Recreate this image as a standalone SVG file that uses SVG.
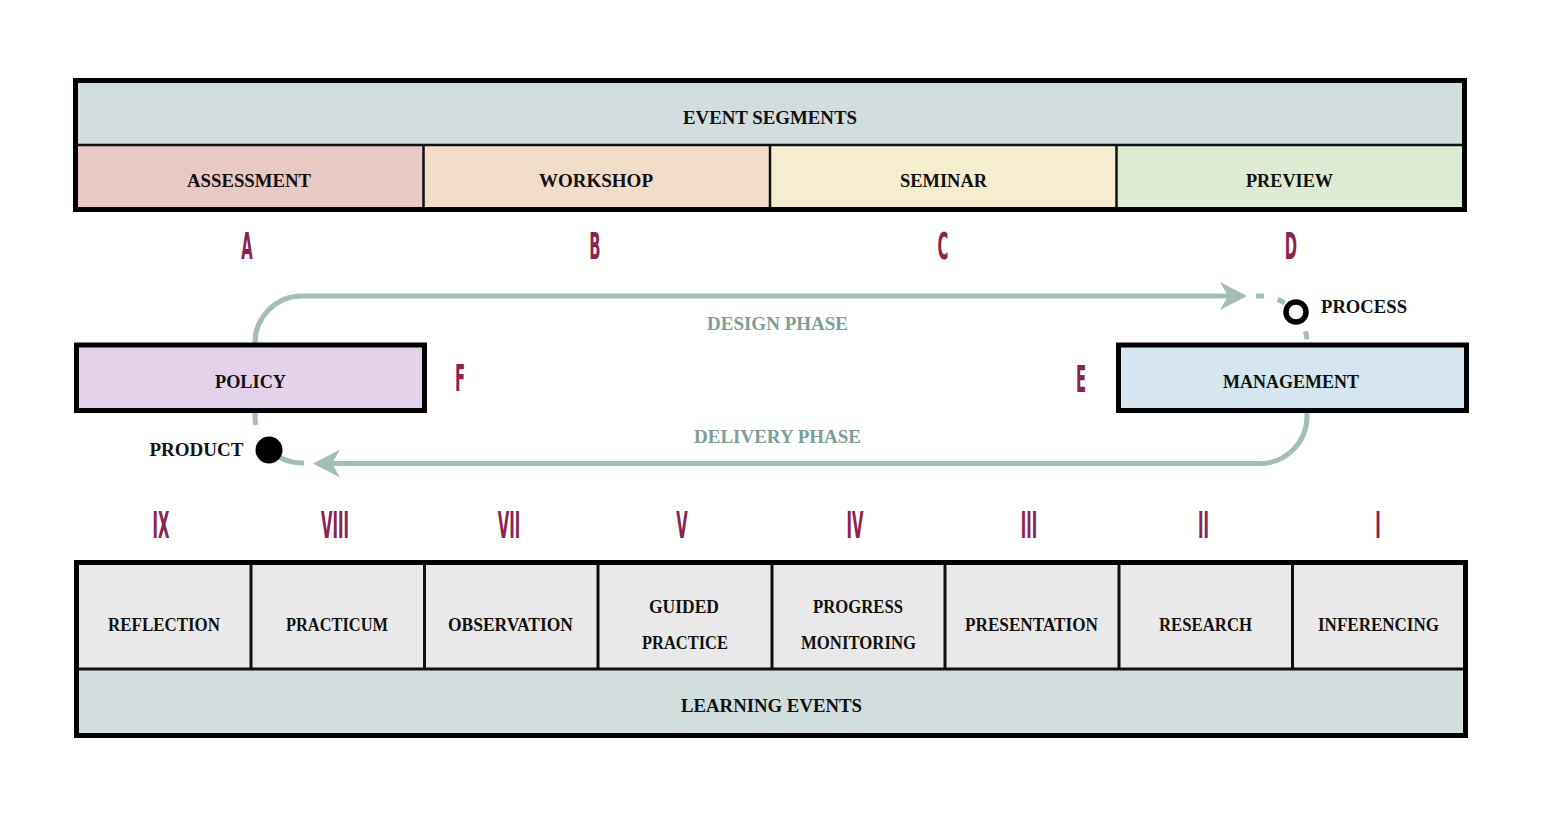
<svg xmlns="http://www.w3.org/2000/svg" width="1544" height="838" viewBox="0 0 1544 838">
<style>
.lbl{font-family:"Liberation Serif","Times New Roman",serif;font-weight:bold;font-size:18.5px;fill:#111;text-anchor:middle;}
.lft{text-anchor:start;}
.rgt{text-anchor:end;}
.phase{font-family:"Liberation Serif","Times New Roman",serif;font-weight:bold;font-size:18.5px;fill:#7C9E99;text-anchor:middle;}
.mark{font-family:"DejaVu Sans",sans-serif;font-weight:bold;font-size:37px;fill:#8B2252;text-anchor:middle;}
.frame{fill:none;stroke:#000;stroke-width:5;}
.div{stroke:#111;stroke-width:2.5;}
.div3{stroke:#111;stroke-width:3;}
.flow{fill:none;stroke:#A3BDB9;stroke-width:5;}
.dash{fill:none;stroke:#A3BDB9;stroke-width:5;}
</style>
<defs>
<marker id="arr" markerUnits="userSpaceOnUse" viewBox="0 0 28 28" markerWidth="28" markerHeight="28" refX="8" refY="14" orient="auto">
<path d="M0,0 L27,14 L0,28 L8,14 Z" fill="#A3BDB9"/>
</marker>
</defs>
<rect width="1544" height="838" fill="#fff"/>

<g id="event-segments">
<rect x="78" y="83" width="1384" height="62" fill="#D2DEDE"/>
<text class="lbl" x="770" y="123.5" textLength="174" lengthAdjust="spacingAndGlyphs">EVENT SEGMENTS</text>
</g>
<g id="assessment">
<rect x="78" y="145" width="346" height="62" fill="#E9C9C4"/>
<text class="lbl" x="249" y="186.5" textLength="124" lengthAdjust="spacingAndGlyphs">ASSESSMENT</text>
</g>
<g id="workshop">
<rect x="424" y="145" width="346" height="62" fill="#F1DDCA"/>
<text class="lbl" x="596" y="186.5" textLength="114" lengthAdjust="spacingAndGlyphs">WORKSHOP</text>
</g>
<g id="seminar">
<rect x="770" y="145" width="346" height="62" fill="#F6EDCF"/>
<text class="lbl" x="943.5" y="186.5" textLength="87" lengthAdjust="spacingAndGlyphs">SEMINAR</text>
</g>
<g id="preview">
<rect x="1116" y="145" width="346" height="62" fill="#DDEBD3"/>
<text class="lbl" x="1289.5" y="186.5" textLength="87" lengthAdjust="spacingAndGlyphs">PREVIEW</text>
</g>
<g id="top-frame">
<line class="div" x1="78" y1="145" x2="1462" y2="145"/>
<line class="div" x1="423.5" y1="145" x2="423.5" y2="207"/>
<line class="div" x1="770" y1="145" x2="770" y2="207"/>
<line class="div" x1="1116.5" y1="145" x2="1116.5" y2="207"/>
<rect class="frame" x="75.5" y="80.5" width="1389" height="129"/>
</g>

<g id="segment-letters">
<text class="mark" transform="translate(247,259) scale(0.4,1)">A</text>
<text class="mark" transform="translate(595,259) scale(0.4,1)">B</text>
<text class="mark" transform="translate(943,259) scale(0.4,1)">C</text>
<text class="mark" transform="translate(1291,259) scale(0.4,1)">D</text>
<text class="mark" transform="translate(460,391) scale(0.4,1)">F</text>
<text class="mark" transform="translate(1081,392) scale(0.4,1)">E</text>
</g>

<g id="connectors">
<path id="design-phase" class="flow" d="M255,345 V343 A47,47 0 0 1 302,296 H1228" marker-end="url(#arr)"/>
<path class="dash" d="M1256,296 H1260 A47,47 0 0 1 1307,343 V345" stroke-dasharray="8 14"/>
<path id="delivery-phase" class="flow" d="M1307,410 V416 A47,47 0 0 1 1260,463.5 H332" marker-end="url(#arr)"/>
<path class="dash" d="M255,412 V416 A47,47 0 0 0 302,463 H304" stroke-dasharray="13 29 40"/>
<text class="phase" x="777.5" y="330" textLength="141" lengthAdjust="spacingAndGlyphs">DESIGN PHASE</text>
<text class="phase" x="777.5" y="443" textLength="167" lengthAdjust="spacingAndGlyphs">DELIVERY PHASE</text>
</g>

<g id="policy">
<rect x="76.5" y="345" width="348" height="65.5" fill="#E4D2EB" stroke="#000" stroke-width="5"/>
<text class="lbl" x="250.5" y="388" textLength="71" lengthAdjust="spacingAndGlyphs">POLICY</text>
</g>
<g id="management">
<rect x="1118.5" y="345" width="348" height="65.5" fill="#D5E6F0" stroke="#000" stroke-width="5"/>
<text class="lbl" x="1291" y="388" textLength="136" lengthAdjust="spacingAndGlyphs">MANAGEMENT</text>
</g>
<g id="process">
<circle cx="1296" cy="312" r="10" fill="#fff" stroke="#000" stroke-width="5.5"/>
<text class="lbl lft" x="1321" y="313" textLength="86" lengthAdjust="spacingAndGlyphs">PROCESS</text>
</g>
<g id="product">
<circle cx="269" cy="450" r="13.5" fill="#000"/>
<text class="lbl rgt" x="243.5" y="456" textLength="94" lengthAdjust="spacingAndGlyphs">PRODUCT</text>
</g>

<g id="event-numerals">
<text class="mark" transform="translate(161,538) scale(0.4,1)">IX</text>
<text class="mark" transform="translate(335,538) scale(0.4,1)">VIII</text>
<text class="mark" transform="translate(509,538) scale(0.4,1)">VII</text>
<text class="mark" transform="translate(682,538) scale(0.4,1)">V</text>
<text class="mark" transform="translate(855,538) scale(0.4,1)">IV</text>
<text class="mark" transform="translate(1029,538) scale(0.4,1)">III</text>
<text class="mark" transform="translate(1203.5,538) scale(0.4,1)">II</text>
<text class="mark" transform="translate(1378,538) scale(0.4,1)">I</text>
</g>

<g id="reflection">
<rect x="79" y="565" width="172" height="104" fill="#E9E9E9"/>
<text class="lbl" x="164" y="631" textLength="112" lengthAdjust="spacingAndGlyphs">REFLECTION</text>
</g>
<g id="practicum">
<rect x="251" y="565" width="173.5" height="104" fill="#E9E9E9"/>
<text class="lbl" x="337" y="631" textLength="102" lengthAdjust="spacingAndGlyphs">PRACTICUM</text>
</g>
<g id="observation">
<rect x="424.5" y="565" width="173.5" height="104" fill="#E9E9E9"/>
<text class="lbl" x="510.5" y="631" textLength="125" lengthAdjust="spacingAndGlyphs">OBSERVATION</text>
</g>
<g id="guided-practice">
<rect x="598" y="565" width="174" height="104" fill="#E9E9E9"/>
<text class="lbl" x="684" y="613" textLength="70" lengthAdjust="spacingAndGlyphs">GUIDED</text>
<text class="lbl" x="685" y="649" textLength="86" lengthAdjust="spacingAndGlyphs">PRACTICE</text>
</g>
<g id="progress-monitoring">
<rect x="772" y="565" width="173" height="104" fill="#E9E9E9"/>
<text class="lbl" x="858" y="613" textLength="90" lengthAdjust="spacingAndGlyphs">PROGRESS</text>
<text class="lbl" x="858.5" y="649" textLength="115" lengthAdjust="spacingAndGlyphs">MONITORING</text>
</g>
<g id="presentation">
<rect x="945" y="565" width="174" height="104" fill="#E9E9E9"/>
<text class="lbl" x="1031.5" y="631" textLength="133" lengthAdjust="spacingAndGlyphs">PRESENTATION</text>
</g>
<g id="research">
<rect x="1119" y="565" width="173.5" height="104" fill="#E9E9E9"/>
<text class="lbl" x="1205.5" y="631" textLength="93" lengthAdjust="spacingAndGlyphs">RESEARCH</text>
</g>
<g id="inferencing">
<rect x="1292.5" y="565" width="172" height="104" fill="#E9E9E9"/>
<text class="lbl" x="1378.5" y="631" textLength="121" lengthAdjust="spacingAndGlyphs">INFERENCING</text>
</g>
<g id="learning-events">
<rect x="79" y="669" width="1386" height="66" fill="#D2DEDE"/>
<text class="lbl" x="771.5" y="712" textLength="181" lengthAdjust="spacingAndGlyphs">LEARNING EVENTS</text>
</g>
<g id="bottom-frame">
<line class="div3" x1="79" y1="669" x2="1465" y2="669"/>
<line class="div3" x1="251" y1="565" x2="251" y2="669"/>
<line class="div3" x1="424.5" y1="565" x2="424.5" y2="669"/>
<line class="div3" x1="598" y1="565" x2="598" y2="669"/>
<line class="div3" x1="772" y1="565" x2="772" y2="669"/>
<line class="div3" x1="945" y1="565" x2="945" y2="669"/>
<line class="div3" x1="1119" y1="565" x2="1119" y2="669"/>
<line class="div3" x1="1292.5" y1="565" x2="1292.5" y2="669"/>
<rect class="frame" x="76.5" y="562.5" width="1389" height="173"/>
</g>
</svg>
